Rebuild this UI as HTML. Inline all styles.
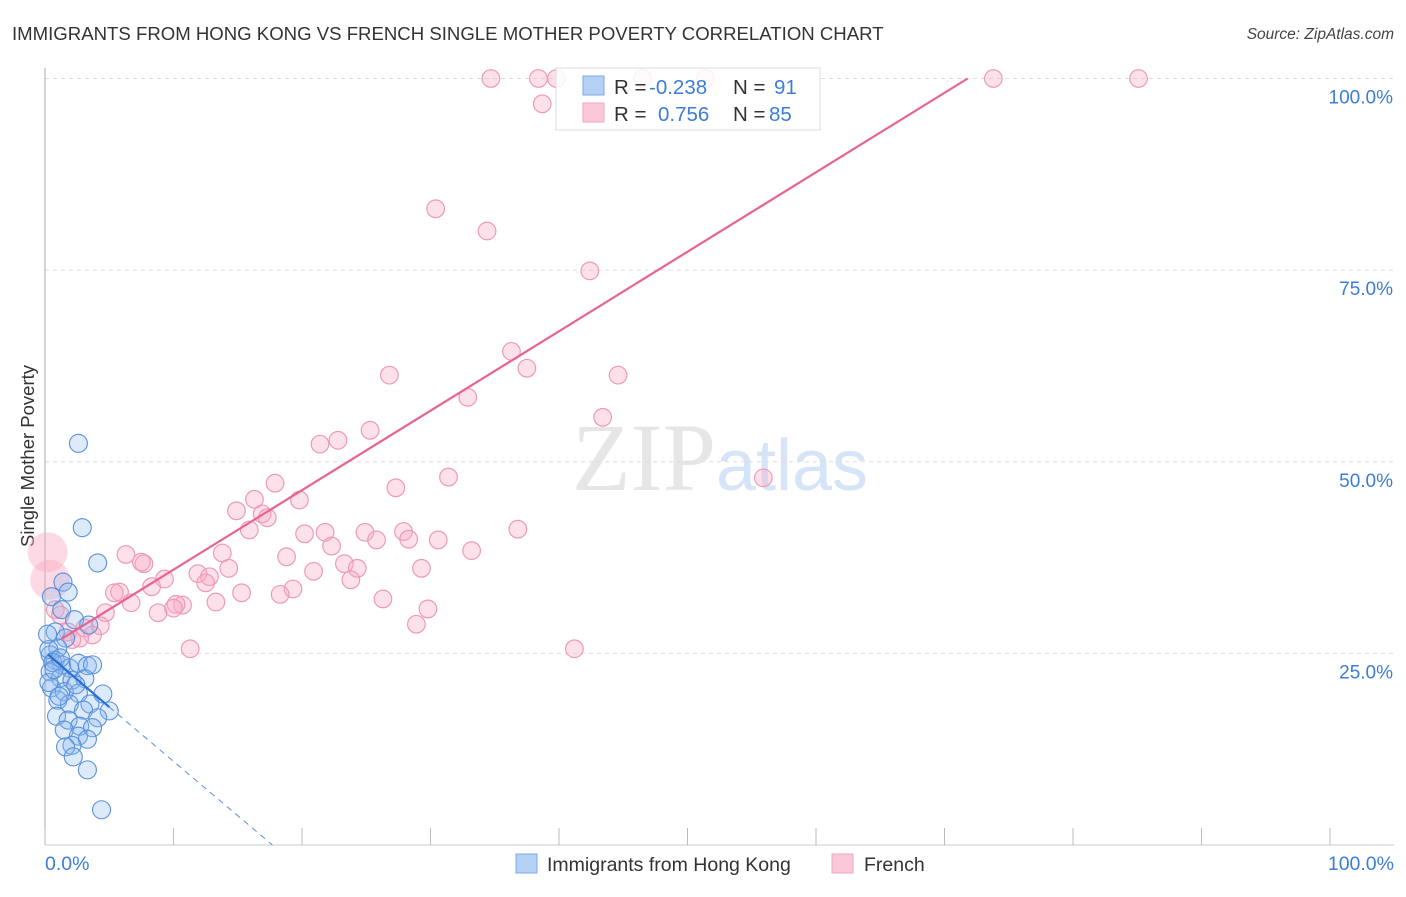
<!DOCTYPE html>
<html><head><meta charset="utf-8"><style>
body{margin:0;background:#fff;font-family:"Liberation Sans",sans-serif;}
</style></head><body>
<svg width="1406" height="892" xmlns="http://www.w3.org/2000/svg" font-family="Liberation Sans, sans-serif">
<text x="12" y="40" font-size="18.6" fill="#333">IMMIGRANTS FROM HONG KONG VS FRENCH SINGLE MOTHER POVERTY CORRELATION CHART</text>
<text x="1394" y="39" font-size="15.5" fill="#444" font-style="italic" text-anchor="end">Source: ZipAtlas.com</text>
<text x="720" y="490" font-size="96" text-anchor="middle" fill="#e6e6e6" font-family="Liberation Serif, serif">ZIP<tspan fill="#d6e4f7" font-family="Liberation Sans, sans-serif" font-size="72">atlas</tspan></text>
<g id="grid"></g>
<line x1="45" y1="68" x2="45" y2="845" stroke="#aaa"/>
<line x1="45" y1="845" x2="1394" y2="845" stroke="#ccc"/>
<g id="ticks"></g>
<text transform="translate(34,456) rotate(-90)" font-size="18.5" fill="#333" text-anchor="middle">Single Mother Poverty</text>
<text x="45" y="870" font-size="19.5" fill="#3b7dd8">0.0%</text>
<text x="1394" y="870" font-size="19.5" fill="#3b7dd8" text-anchor="end">100.0%</text>
<g id="pink"></g><g id="blue"></g><g id="lines"></g>
<g>
<rect x="556" y="68" width="264" height="62" fill="#fff" fill-opacity="0.85" stroke="#ddd"/>
<rect x="583" y="76" width="21" height="19" fill="#b5d0f5" stroke="#7ea9e6"/>
<rect x="583" y="103" width="21" height="19" fill="#fbc8d8" stroke="#f0a6bf"/>
<text x="614" y="94" font-size="20.5" fill="#333">R =</text><text x="649" y="94" font-size="20.5" fill="#3b7dd8">-0.238</text>
<text x="733" y="94" font-size="20.5" fill="#333">N =</text><text x="774" y="94" font-size="20.5" fill="#3b7dd8">91</text>
<text x="614" y="121" font-size="20.5" fill="#333">R =</text><text x="658" y="121" font-size="20.5" fill="#3b7dd8">0.756</text>
<text x="733" y="121" font-size="20.5" fill="#333">N =</text><text x="769" y="121" font-size="20.5" fill="#3b7dd8">85</text>
</g>
<g>
<rect x="516" y="854" width="21" height="19" fill="#b5d0f5" stroke="#7ea9e6"/>
<text x="547" y="871" font-size="19.5" fill="#333">Immigrants from Hong Kong</text>
<rect x="832" y="854" width="21" height="19" fill="#fbc8d8" stroke="#f0a6bf"/>
<text x="864" y="871" font-size="19.5" fill="#333">French</text>
</g>
</svg>
<script>
const yTicks=[25,50,75,100];
const yTickLabels=["25.0%","50.0%","75.0%","100.0%"];
const xTicks=[0,10,20,30,40,50,60,70,80,90,100];
const pinkX=[34.7,38.4,39.8,46.5,51.4,73.8,85.1,38.7,30.4,34.4,42.4,36.3,37.5,44.6,26.8,32.9,43.4,25.3,22.8,21.4,55.9,31.4,27.3,17.9,16.3,19.8,14.9,16.9,17.3,15.9,21.8,20.2,24.9,27.9,36.8,25.8,28.3,30.6,22.3,33.2,13.8,6.3,18.8,7.7,7.5,23.3,20.9,24.3,14.3,29.3,11.9,12.8,12.5,9.3,23.8,8.3,19.3,18.3,15.3,5.8,5.4,26.3,6.7,10.7,10.2,10,13.3,4.7,8.8,29.8,28.9,4.3,3.1,1.8,3.7,2.7,11.3,41.2,0.8,1.2,2.1];
const pinkY=[100,100,100,100,100,100,100,96.7,83,80.1,74.9,64.4,62.2,61.3,61.3,58.4,55.8,54.1,52.8,52.3,47.9,48,46.6,47.2,45.1,45,43.6,43.2,42.7,41.1,40.8,40.6,40.8,40.9,41.2,39.8,39.9,39.8,39,38.4,38.1,37.9,37.6,36.7,36.9,36.7,35.7,36.1,36.1,36.1,35.4,35,34.2,34.7,34.6,33.7,33.4,32.7,32.9,33,32.9,32.1,31.6,31.3,31.4,30.9,31.7,30.3,30.3,30.8,28.8,28.6,28.3,27.8,27.4,27,25.6,25.6,30.7,30,26.8];
const pinkBigX=[0.2,0.4];
const pinkBigY=[38.2,34.6];
const blueX=[2.6,2.9,4.1,1.4,1.8,0.5,1.3,2.3,3.4,0.8,1.6,1,0.4,0.8,1.3,1.9,2.6,3.3,3.7,0.4,1.2,2.1,3.1,0.5,1.5,2.6,4.5,1,1.9,3.5,5,3,0.9,1.8,4.1,2.7,1.5,3.7,2.6,3.3,2.1,1.6,2.2,3.3,4.4,0.3,0.6,0.3,1.2,0.7,2.4,1.1,0.2];
const blueY=[52.4,41.4,36.8,34.3,33,32.4,30.7,29.4,28.7,27.8,27,25.7,24.8,24.1,23.5,23.1,23.7,23.4,23.5,22.6,21.8,21.5,21.7,20.5,20,19.8,19.7,18.9,18.4,18.4,17.5,17.6,16.8,16.3,16.6,15.5,15,15.3,14.2,13.8,13,12.8,11.5,9.8,4.6,25.5,23.8,21.2,24.4,22.9,20.9,19.4,27.5];
const pinkTrend=[1.3,26.9,71.8,100];
const blueTrend=[0.2,24.9,5.0,18.0,17.7,0];
const NS="http://www.w3.org/2000/svg";
const sx=v=>45+v*12.85, sy=v=>845-v*7.665;
function mk(p,t,a){const e=document.createElementNS(NS,t);for(const k in a)e.setAttribute(k,a[k]);document.getElementById(p).appendChild(e);return e;}
yTicks.forEach((t,i)=>{
 const l=mk('grid','line',{x1:45,x2:1394,y1:sy(t),y2:sy(t),stroke:'#ddd','stroke-dasharray':'4,4'});
 
 
 const tx=mk('grid','text',{x:1393,y:sy(t)+25,'font-size':19,fill:'#3b7dd8','text-anchor':'end'});
 tx.textContent=yTickLabels[i];
 
 
});
xTicks.forEach(t=>{
 const l=mk('ticks','line',{x1:sx(t),x2:sx(t),y1:828,y2:845,stroke:'#bbb'});
 
 
});
pinkBigX.forEach((x,i)=>{
 const c=mk('pink','circle',{cx:sx(x),cy:sy(pinkBigY[i]),r:20,fill:'rgba(248,170,195,0.45)',stroke:'none'});
 
 
});
pinkX.forEach((x,i)=>{
 const c=mk('pink','circle',{cx:sx(x),cy:sy(pinkY[i]),r:8.8,fill:'rgba(248,170,195,0.35)',stroke:'#ee9ab6','stroke-width':1.2});
 
 
});
blueX.forEach((x,i)=>{
 const c=mk('blue','circle',{cx:sx(x),cy:sy(blueY[i]),r:9,fill:'rgba(140,185,240,0.3)',stroke:'#5a90dc','stroke-width':1.1});
 
 
});
const pl=mk('lines','line',{x1:sx(pinkTrend[0]),y1:sy(pinkTrend[1]),x2:sx(pinkTrend[2]),y2:sy(pinkTrend[3]),stroke:'#e8638f','stroke-width':2.2});


const bl=mk('lines','line',{x1:sx(blueTrend[0]),y1:sy(blueTrend[1]),x2:sx(blueTrend[2]),y2:sy(blueTrend[3]),stroke:'#2a6fd6','stroke-width':2.2});


const bd=mk('lines','line',{x1:sx(blueTrend[2]),y1:sy(blueTrend[3]),x2:sx(blueTrend[4]),y2:sy(blueTrend[5]),stroke:'#5a8fdc','stroke-width':1,'stroke-dasharray':'6,5'});


</script>
</body></html>
